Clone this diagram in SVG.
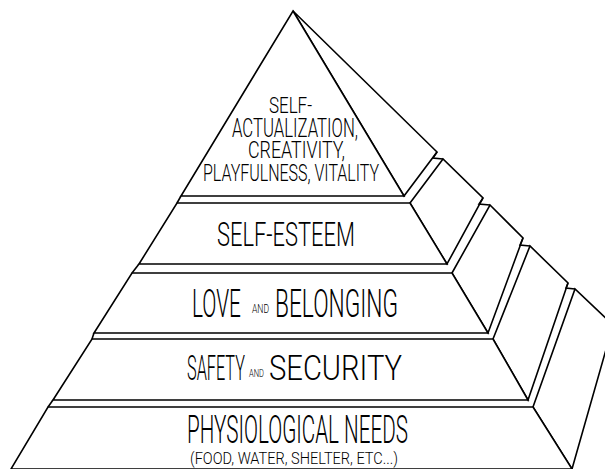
<svg xmlns="http://www.w3.org/2000/svg" width="605" height="469" viewBox="0 0 605 469">
<style>
.f{fill:#fff;stroke:#000;stroke-width:1.6;stroke-linejoin:miter}
.l{fill:none;stroke:#000;stroke-width:1.6}
.t{font-family:Roboto,"Liberation Sans",sans-serif;font-weight:300;fill:#000}
</style>
<rect width="605" height="469" fill="#fff"/>
<g id="tier1">
<polygon class="f" points="293,11 437,152 404,196"/>
<polygon class="f" points="293,11 404,196 181,196"/>
<text class="t" transform="translate(269,113) scale(0.83,1)" font-size="22" textLength="51.8" lengthAdjust="spacingAndGlyphs">SELF-</text>
<text class="t" transform="translate(232,137) scale(0.63,1)" font-size="25" textLength="200" lengthAdjust="spacingAndGlyphs">ACTUALIZATION,</text>
<text class="t" transform="translate(248,158) scale(0.70,1)" font-size="23" textLength="138.6" lengthAdjust="spacingAndGlyphs">CREATIVITY,</text>
<text class="t" transform="translate(203,181) scale(0.65,1)" font-size="23.5" textLength="270.8" lengthAdjust="spacingAndGlyphs">PLAYFULNESS, VITALITY</text>
</g>
<g id="tier2">
<polygon class="f" points="410,203 443,159 483,198 447,264"/>
<polygon class="f" points="177,203 410,203 447,264 139,264"/>
<text class="t" transform="translate(217,246) scale(0.70,1)" font-size="33" textLength="197" lengthAdjust="spacingAndGlyphs">SELF-ESTEEM</text>
</g>
<g id="tier3">
<polygon class="f" points="452,273 490,205 523,238 488,333"/>
<polygon class="f" points="132,273 452,273 488,333 94,333"/>
<text class="t" transform="translate(192,317) scale(0.54,1)" font-size="38" textLength="90.7" lengthAdjust="spacingAndGlyphs">LOVE</text>
<text class="t" transform="translate(252,313) scale(0.70,1)" font-size="12.5" textLength="24.3" lengthAdjust="spacingAndGlyphs">AND</text>
<text class="t" transform="translate(275,317) scale(0.58,1)" font-size="38" textLength="212" lengthAdjust="spacingAndGlyphs">BELONGING</text>
</g>
<g id="tier4">
<polygon class="f" points="493,339 530,246 568,283 528,400"/>
<polygon class="f" points="92,339 493,339 528,400 53,400"/>
<text class="t" transform="translate(187,380) scale(0.46,1)" font-size="35" textLength="126" lengthAdjust="spacingAndGlyphs">SAFETY</text>
<text class="t" transform="translate(249,377) scale(0.68,1)" font-size="11.5" textLength="22" lengthAdjust="spacingAndGlyphs">AND</text>
<text class="t" transform="translate(269,380) scale(0.79,1)" font-size="35" textLength="168.4" lengthAdjust="spacingAndGlyphs">SECURITY</text>
</g>
<g id="tier5">
<polygon class="f" points="533,407 575,289 613,325 572,469"/>
<polygon class="f" points="48,407 533,407 572,469 11,469"/>
<text class="t" transform="translate(187,443) scale(0.526,1)" font-size="38" textLength="420" lengthAdjust="spacingAndGlyphs">PHYSIOLOGICAL NEEDS</text>
<text class="t" transform="translate(190,464) scale(0.92,1)" font-size="16" textLength="226" lengthAdjust="spacingAndGlyphs">(FOOD, WATER, SHELTER, ETC...)</text>
</g>
<g id="connectors">
<polyline class="l" points="181,196 177,203"/>
<polyline class="l" points="139,264 132,273"/>
<polyline class="l" points="94,333 92,339"/>
<polyline class="l" points="53,400 48,407"/>
<polyline class="l" points="437,152 433,158 443,159"/>
<polyline class="l" points="483,198 479,204 490,205"/>
<polyline class="l" points="523,238 520,245 530,246"/>
<polyline class="l" points="568,283 566,288 575,289"/>
</g>
</svg>
